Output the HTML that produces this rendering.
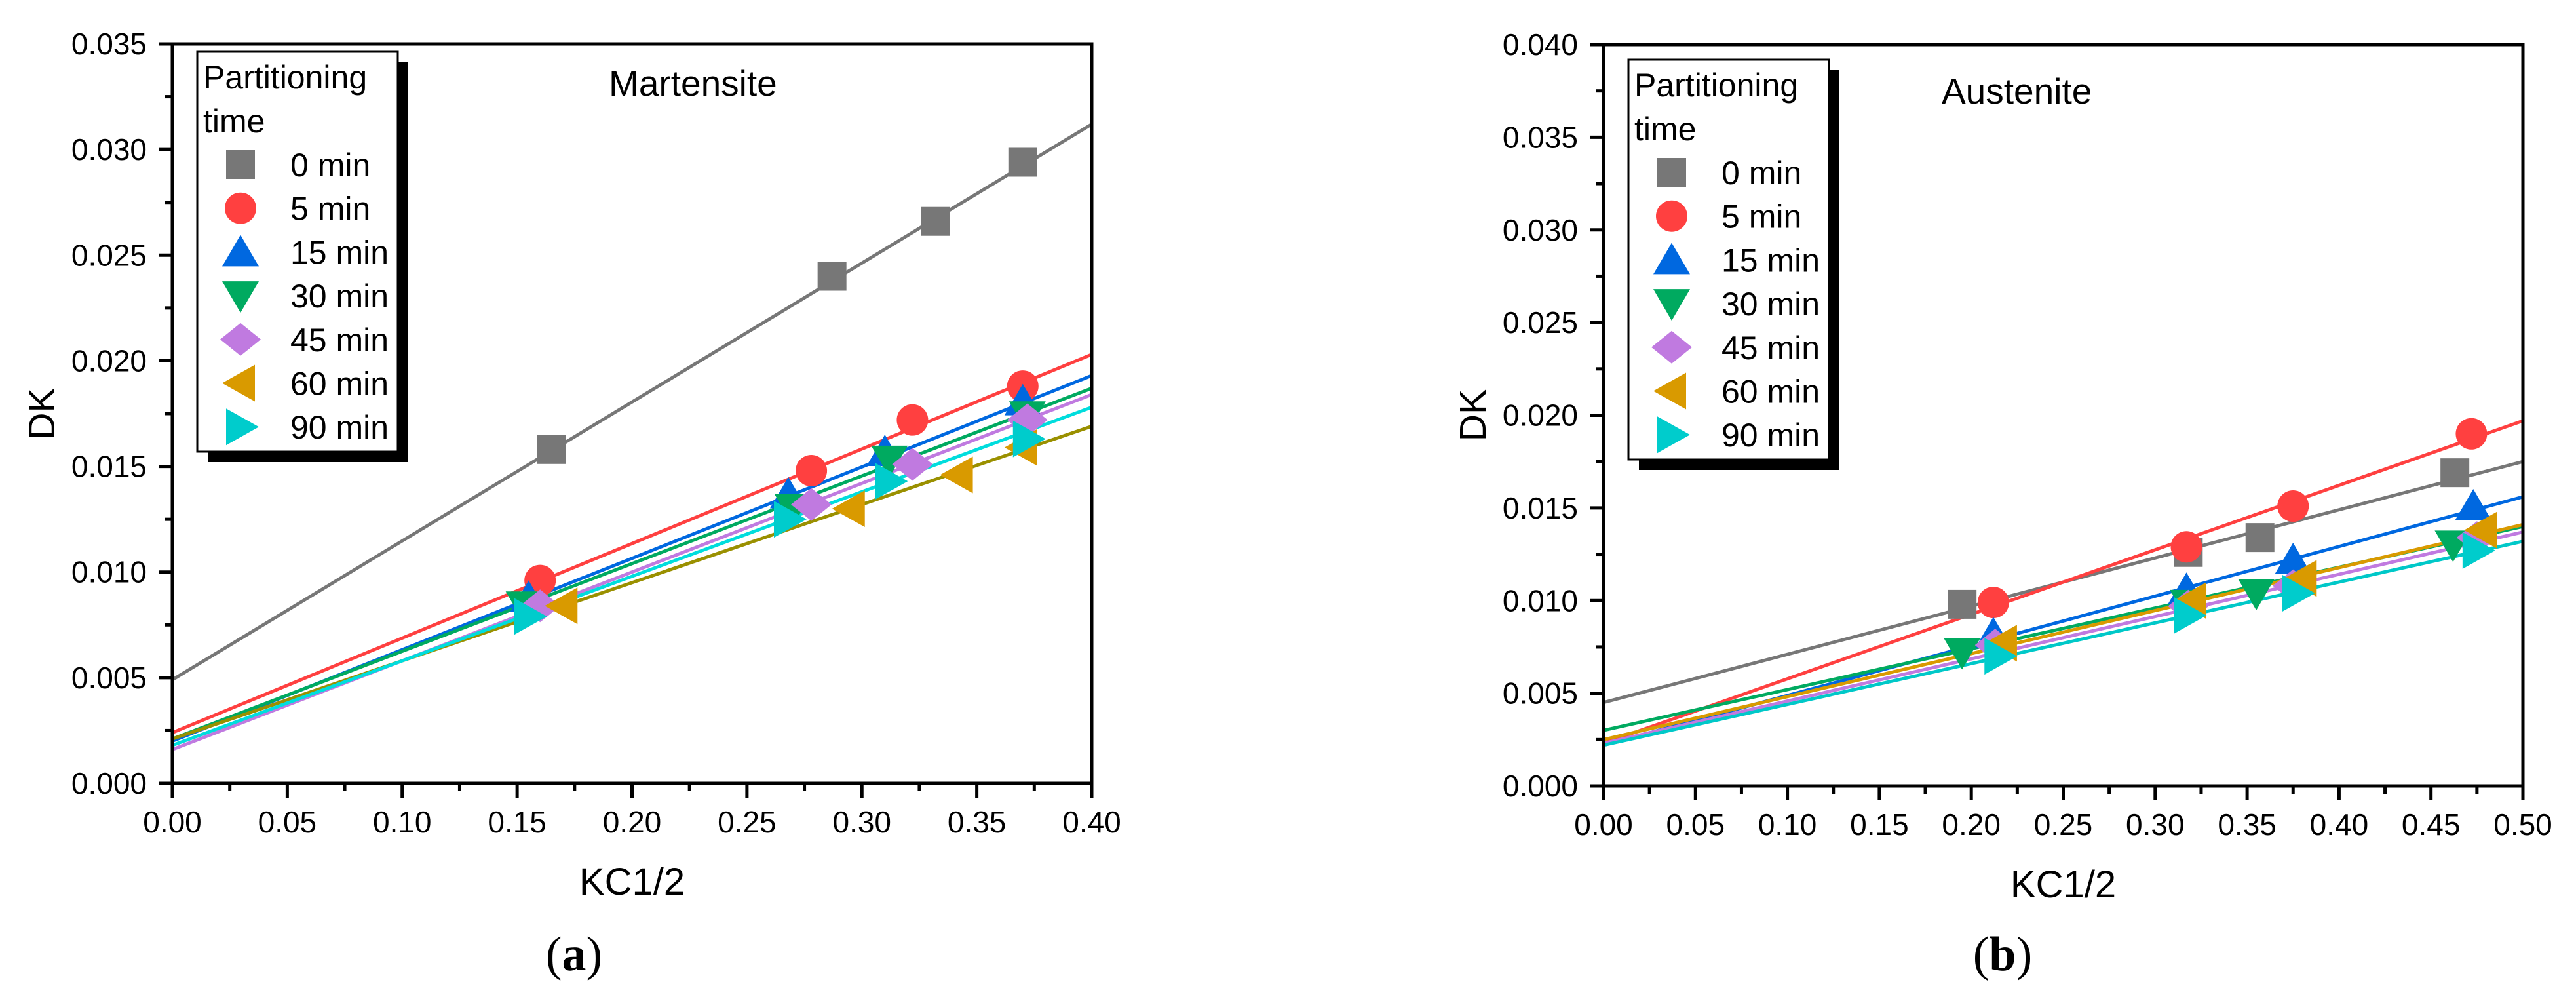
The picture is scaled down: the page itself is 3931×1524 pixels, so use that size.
<!DOCTYPE html>
<html><head><meta charset="utf-8"><style>
html,body{margin:0;padding:0;background:#fff;}
svg{display:block;font-family:"Liberation Sans",Arial,sans-serif;}
</style></head><body>
<svg id="fig" width="3931" height="1524" viewBox="0 0 3931 1524"></svg>
<script>
const seriesNames=["0 min","5 min","15 min","30 min","45 min","60 min","90 min"];
const shapes=["square","circle","up","down","diamond","left","right"];
const colorsA=["#777777","#ff4040","#0068e0","#00aa60","#c07ae0","#d99a00","#00cccc"];
const lineColorsA=["#777777","#ff4040","#0068e0","#00aa60","#c07ae0","#9a9000","#00dddd"];
const lineColorsB=["#777777","#ff4040","#0068e0","#00aa60","#c07ae0","#d99a00","#00c8c8"];
// Martensite data
const xA=[[0.165,0.287,0.332,0.370],[0.160,0.278,0.322,0.370],[0.155,0.268,0.310,0.370],[0.153,0.270,0.312,0.372],[0.160,0.278,0.322,0.372],[0.170,0.295,0.342,0.370],[0.155,0.268,0.312,0.372]];
const yA=[[0.0158,0.0240,0.0266,0.0294],[0.0096,0.0148,0.0172,0.0188],[0.0088,0.0137,0.0157,0.0181],[0.0084,0.0130,0.0153,0.0174],[0.0084,0.0132,0.0151,0.0172],[0.0084,0.0130,0.0146,0.0159],[0.0079,0.0125,0.0143,0.0163]];
const fitStartA=[0.0049,0.0024,0.0020,0.0021,0.0016,0.0021,0.0018];
const fitEndA=[0.0312,0.0203,0.0193,0.0187,0.0184,0.0169,0.0178];
const xTicksA=["0.00","0.05","0.10","0.15","0.20","0.25","0.30","0.35","0.40"];
const yTicksA=["0.000","0.005","0.010","0.015","0.020","0.025","0.030","0.035"];
// Austenite data
const xB=[[0.195,0.318,0.357,0.463],[0.212,0.317,0.375,0.472],[0.212,0.317,0.375,0.473],[0.195,0.318,0.355,0.462],[0.213,0.318,0.375,0.475],[0.217,0.320,0.380,0.478],[0.215,0.318,0.377,0.475]];
const yB=[[0.0098,0.0126,0.0134,0.0169],[0.0099,0.0129,0.0151,0.0190],[0.0082,0.0106,0.0122,0.0151],[0.0072,0.0098,0.0104,0.0130],[0.0076,0.0097,0.0108,0.0134],[0.0077,0.0100,0.0112,0.0138],[0.0070,0.0092,0.0104,0.0127]];
const fitStartB=[0.0045,0.0023,0.0022,0.0030,0.0023,0.0025,0.0022];
const fitEndB=[0.0175,0.0197,0.0156,0.0140,0.0137,0.0141,0.0132];
const xTicksB=["0.00","0.05","0.10","0.15","0.20","0.25","0.30","0.35","0.40","0.45","0.50"];
const yTicksB=["0.000","0.005","0.010","0.015","0.020","0.025","0.030","0.035","0.040"];

const NS="http://www.w3.org/2000/svg";
const svg=document.getElementById('fig');
function mk(tag,attrs,parent,text){const e=document.createElementNS(NS,tag);for(const k in attrs)e.setAttribute(k,attrs[k]);if(text!==undefined)e.textContent=text;(parent||svg).appendChild(e);return e;}

function marker(g,shape,cx,cy,color){
  const r=22;let e;
  if(shape==="square")e=mk('rect',{x:cx-r,y:cy-r,width:2*r,height:2*r,fill:color},g);
  else if(shape==="circle")e=mk('circle',{cx:cx,cy:cy,r:r+2,fill:color},g);
  else if(shape==="up")e=mk('polygon',{points:`${cx},${cy-r-4} ${cx+r+6},${cy+r} ${cx-r-6},${cy+r}`,fill:color},g);
  else if(shape==="down")e=mk('polygon',{points:`${cx-r-6},${cy-r} ${cx+r+6},${cy-r} ${cx},${cy+r+4}`,fill:color},g);
  else if(shape==="diamond")e=mk('polygon',{points:`${cx},${cy-r-3} ${cx+r+9},${cy} ${cx},${cy+r+3} ${cx-r-9},${cy}`,fill:color},g);
  else if(shape==="left")e=mk('polygon',{points:`${cx-r-6},${cy} ${cx+r},${cy-r-6} ${cx+r},${cy+r+6}`,fill:color},g);
  else e=mk('polygon',{points:`${cx+r+6},${cy} ${cx-r},${cy-r-6} ${cx-r},${cy+r+6}`,fill:color},g);
  return e;
}

function chart(cfg){
  const g=mk('g',{});
  
  
  const L=cfg.L,R=cfg.R,T=cfg.T,B=cfg.B;
  const sx=v=>L+(v-0)/cfg.xmax*(R-L);
  const sy=v=>B-(v-0)/cfg.ymax*(B-T);
  const cid='clip'+cfg.id;
  const cp=mk('clipPath',{id:cid},g);mk('rect',{x:L,y:T,width:R-L,height:B-T},cp);
  const lg=mk('g',{'clip-path':`url(#${cid})`},g);
  for(let i=0;i<seriesNames.length;i++){
    const ln=mk('line',{x1:sx(0),y1:sy(cfg.fs[i]),x2:sx(cfg.xmax),y2:sy(cfg.fe[i]),stroke:cfg.lc[i],'stroke-width':5},lg);
    
    
  }
  for(let i=0;i<seriesNames.length;i++){
    for(let j=0;j<cfg.xs[i].length;j++){
      const m=marker(lg,shapes[i],sx(cfg.xs[i][j]),sy(cfg.ys[i][j]),colorsA[i]);
      
      
    }
  }
  const fr=mk('rect',{x:L,y:T,width:R-L,height:B-T,fill:'none',stroke:'#000','stroke-width':5},g);
  
  
  const nx=cfg.xt.length;
  for(let i=0;i<nx;i++){
    const v=i*cfg.xmax/(nx-1);const x=sx(v);
    mk('line',{x1:x,y1:B,x2:x,y2:B+22,stroke:'#000','stroke-width':5},g);
    if(i<nx-1){const xm=sx(v+cfg.xmax/(nx-1)/2);mk('line',{x1:xm,y1:B,x2:xm,y2:B+12,stroke:'#000','stroke-width':5},g);}
    const t=mk('text',{x:x,y:B+75,'font-size':46,'text-anchor':'middle'},g,cfg.xt[i]);
    
    
  }
  const ny=cfg.yt.length;
  for(let i=0;i<ny;i++){
    const v=i*cfg.ymax/(ny-1);const y=sy(v);
    mk('line',{x1:L-21,y1:y,x2:L,y2:y,stroke:'#000','stroke-width':5},g);
    if(i<ny-1){const ym=sy(v+cfg.ymax/(ny-1)/2);mk('line',{x1:L-11,y1:ym,x2:L,y2:ym,stroke:'#000','stroke-width':5},g);}
    const t=mk('text',{x:L-39,y:y+16,'font-size':46,'text-anchor':'end'},g,cfg.yt[i]);
    
    
  }
  const xt=mk('text',{x:(L+R)/2,y:B+170,'font-size':58,'text-anchor':'middle'},g,'KC1/2');
  
  
  const yt=mk('text',{x:0,y:0,'font-size':57,'text-anchor':'middle',transform:`translate(${cfg.ytx},${(T+B)/2}) rotate(-90)`},g,'DK');
  
  
  const pt=mk('text',{x:cfg.titleX,y:cfg.titleY,'font-size':55},g,cfg.title);
  
  
  const lgd=mk('g',{},g);
  
  
  const lx=cfg.legX,ly=cfg.legY,lw=306,lh=610;
  mk('rect',{x:lx+16,y:ly+16,width:lw,height:lh,fill:'#000'},lgd);
  mk('rect',{x:lx,y:ly,width:lw,height:lh,fill:'#fff',stroke:'#000','stroke-width':3},lgd);
  mk('text',{x:lx+9,y:ly+56,'font-size':50},lgd,'Partitioning');
  mk('text',{x:lx+9,y:ly+123,'font-size':50},lgd,'time');
  for(let i=0;i<seriesNames.length;i++){
    const by=ly+190+i*66.7;
    const le=mk('g',{},lgd);
    
    
    marker(le,shapes[i],lx+66,by-18,colorsA[i]);
    mk('text',{x:lx+142,y:by,'font-size':50},le,seriesNames[i]);
  }
  const pl=mk('text',{x:cfg.plX,y:1480,'font-size':74,'text-anchor':'middle','font-family':'"Liberation Serif",serif'},g);
  
  
  mk('tspan',{},pl,'(');mk('tspan',{'font-weight':'bold'},pl,cfg.pl);mk('tspan',{},pl,')');
}

chart({id:'a',name:'martensite-chart',L:263,R:1666,T:67,B:1195,xmax:0.40,ymax:0.035,xs:xA,ys:yA,fs:fitStartA,fe:fitEndA,lc:lineColorsA,xt:xTicksA,yt:yTicksA,ytx:83,title:'Martensite',titleX:929,titleY:146,legX:301,legY:79,plX:876,pl:'a'});
chart({id:'b',name:'austenite-chart',L:2447,R:3850,T:68,B:1199,xmax:0.50,ymax:0.040,xs:xB,ys:yB,fs:fitStartB,fe:fitEndB,lc:lineColorsB,xt:xTicksB,yt:yTicksB,ytx:2267,title:'Austenite',titleX:2963,titleY:158,legX:2485,legY:91,plX:3056,pl:'b'});
</script>
</body></html>
